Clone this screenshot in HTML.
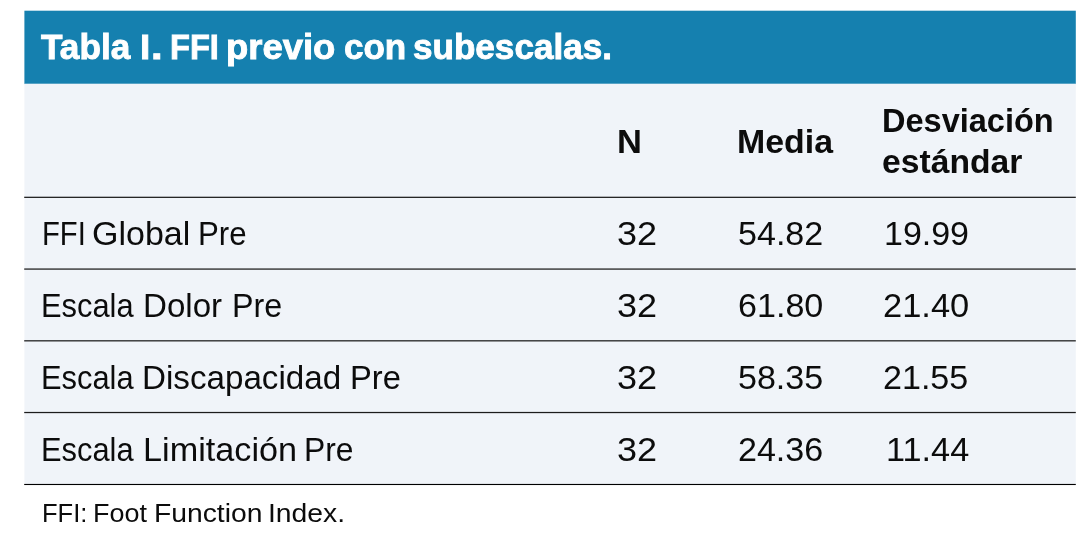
<!DOCTYPE html>
<html lang="es"><head><meta charset="utf-8"><title>Tabla I</title>
<style>
html,body{margin:0;padding:0;background:#fff}
body{width:1091px;height:539px;position:relative;overflow:hidden;font-family:"Liberation Sans",sans-serif}
#g{position:absolute;left:0;top:0;display:block}
table,caption,thead,tbody,tfoot,tr,th,td{display:block;margin:0;padding:0;border:0;font-weight:inherit;text-align:left}
.t{position:absolute;display:block;white-space:nowrap;transform-origin:0 0}
#t1a{left:41.00px;top:29.27px;font-size:35px;line-height:35px;font-weight:700;color:#ffffff;transform:scaleX(1.0049);-webkit-text-stroke:0.9px #fff}
#t1b{left:140.00px;top:29.27px;font-size:35px;line-height:35px;font-weight:700;color:#ffffff;transform:scaleX(1.0489);-webkit-text-stroke:0.9px #fff}
#t1b2{left:151.00px;top:29.27px;font-size:35px;line-height:35px;font-weight:700;color:#ffffff;transform:scaleX(1.1907);-webkit-text-stroke:0.9px #fff}
#t1c{left:170.00px;top:29.27px;font-size:35px;line-height:35px;font-weight:700;color:#ffffff;transform:scaleX(0.9317);-webkit-text-stroke:0.9px #fff}
#t1d{left:226.00px;top:29.27px;font-size:35px;line-height:35px;font-weight:700;color:#ffffff;transform:scaleX(1.041);-webkit-text-stroke:0.9px #fff}
#t1e{left:344.00px;top:29.27px;font-size:35px;line-height:35px;font-weight:700;color:#ffffff;transform:scaleX(1.0007);-webkit-text-stroke:0.9px #fff}
#t1f{left:413.00px;top:29.27px;font-size:35px;line-height:35px;font-weight:700;color:#ffffff;transform:scaleX(1.0022);-webkit-text-stroke:0.9px #fff}
#hN{left:617.00px;top:124.74px;font-size:33.5px;line-height:33.5px;font-weight:700;color:#0c0c0c;transform:scaleX(1.0301)}
#hM{left:737.00px;top:124.74px;font-size:33.5px;line-height:33.5px;font-weight:700;color:#0c0c0c;transform:scaleX(1.0108)}
#hD1{left:882.00px;top:104.04px;font-size:33.5px;line-height:33.5px;font-weight:700;color:#0c0c0c;transform:scaleX(0.9703)}
#hD2{left:882.00px;top:145.44px;font-size:33.5px;line-height:33.5px;font-weight:700;color:#0c0c0c;transform:scaleX(1.0053)}
#r1a{left:42.00px;top:217.44px;font-size:33.5px;line-height:33.5px;font-weight:400;color:#0c0c0c;transform:scaleX(0.8716)}
#r1a2{left:92.00px;top:217.44px;font-size:33.5px;line-height:33.5px;font-weight:400;color:#0c0c0c;transform:scaleX(1.0148)}
#r1a3{left:198.00px;top:217.44px;font-size:33.5px;line-height:33.5px;font-weight:400;color:#0c0c0c;transform:scaleX(0.9317)}
#r1b{left:617.00px;top:217.44px;font-size:33.5px;line-height:33.5px;font-weight:400;color:#0c0c0c;transform:scaleX(1.0754)}
#r1c{left:738.00px;top:217.44px;font-size:33.5px;line-height:33.5px;font-weight:400;color:#0c0c0c;transform:scaleX(1.0168)}
#r1d{left:884.00px;top:217.44px;font-size:33.5px;line-height:33.5px;font-weight:400;color:#0c0c0c;transform:scaleX(1.014)}
#r2a{left:41.00px;top:289.04px;font-size:33.5px;line-height:33.5px;font-weight:400;color:#0c0c0c;transform:scaleX(0.9205)}
#r2a2{left:143.00px;top:289.04px;font-size:33.5px;line-height:33.5px;font-weight:400;color:#0c0c0c;transform:scaleX(0.9885)}
#r2a3{left:232.00px;top:289.04px;font-size:33.5px;line-height:33.5px;font-weight:400;color:#0c0c0c;transform:scaleX(0.9631)}
#r2b{left:617.00px;top:289.04px;font-size:33.5px;line-height:33.5px;font-weight:400;color:#0c0c0c;transform:scaleX(1.0754)}
#r2c{left:738.00px;top:289.04px;font-size:33.5px;line-height:33.5px;font-weight:400;color:#0c0c0c;transform:scaleX(1.0178)}
#r2d{left:883.00px;top:289.04px;font-size:33.5px;line-height:33.5px;font-weight:400;color:#0c0c0c;transform:scaleX(1.0288)}
#r3a{left:41.00px;top:360.94px;font-size:33.5px;line-height:33.5px;font-weight:400;color:#0c0c0c;transform:scaleX(0.9205)}
#r3a2{left:142.00px;top:360.94px;font-size:33.5px;line-height:33.5px;font-weight:400;color:#0c0c0c;transform:scaleX(0.9904)}
#r3a3{left:350.00px;top:360.94px;font-size:33.5px;line-height:33.5px;font-weight:400;color:#0c0c0c;transform:scaleX(0.9757)}
#r3b{left:617.00px;top:360.94px;font-size:33.5px;line-height:33.5px;font-weight:400;color:#0c0c0c;transform:scaleX(1.0754)}
#r3c{left:738.00px;top:360.94px;font-size:33.5px;line-height:33.5px;font-weight:400;color:#0c0c0c;transform:scaleX(1.0162)}
#r3d{left:883.00px;top:360.94px;font-size:33.5px;line-height:33.5px;font-weight:400;color:#0c0c0c;transform:scaleX(1.0172)}
#r4a{left:41.00px;top:432.94px;font-size:33.5px;line-height:33.5px;font-weight:400;color:#0c0c0c;transform:scaleX(0.9205)}
#r4a2{left:143.00px;top:432.94px;font-size:33.5px;line-height:33.5px;font-weight:400;color:#0c0c0c;transform:scaleX(1.0219)}
#r4a3{left:304.00px;top:432.94px;font-size:33.5px;line-height:33.5px;font-weight:400;color:#0c0c0c;transform:scaleX(0.95)}
#r4b{left:617.00px;top:432.94px;font-size:33.5px;line-height:33.5px;font-weight:400;color:#0c0c0c;transform:scaleX(1.0754)}
#r4c{left:738.00px;top:432.94px;font-size:33.5px;line-height:33.5px;font-weight:400;color:#0c0c0c;transform:scaleX(1.0164)}
#r4d{left:886.00px;top:432.94px;font-size:33.5px;line-height:33.5px;font-weight:400;color:#0c0c0c;transform:scaleX(1.0229)}
#fna{left:42.00px;top:499.57px;font-size:26.5px;line-height:26.5px;font-weight:400;color:#0c0c0c;transform:scaleX(0.9627)}
#fnb{left:93.00px;top:499.57px;font-size:26.5px;line-height:26.5px;font-weight:400;color:#0c0c0c;transform:scaleX(1.0169)}
#fnc{left:154.00px;top:499.57px;font-size:26.5px;line-height:26.5px;font-weight:400;color:#0c0c0c;transform:scaleX(1.067)}
#fnd{left:268.00px;top:499.57px;font-size:26.5px;line-height:26.5px;font-weight:400;color:#0c0c0c;transform:scaleX(1.0672)}
</style></head><body>
<svg id="g" width="1091" height="539" viewBox="0 0 1091 539">
<rect x="24.4" y="10.7" width="1051.4" height="73.4" fill="#1580af"/>
<rect x="24.4" y="83.7" width="1051.4" height="400.6" fill="#f0f4f9"/>
<g fill="#1c1c1c">
<rect x="24.2" y="196.7" width="1051.6" height="1.25"/>
<rect x="24.2" y="268.45" width="1051.6" height="1.25"/>
<rect x="24.2" y="340.2" width="1051.6" height="1.25"/>
<rect x="24.2" y="411.9" width="1051.6" height="1.25"/>
<rect x="24.2" y="483.92" width="1051.6" height="1.12" fill="#000"/>
</g>
</svg>
<table>
<caption><span class="t" id="t1a">Tabla</span> <span class="t" id="t1b">I</span><span class="t" id="t1b2">.</span> <span class="t" id="t1c">FFI</span> <span class="t" id="t1d">previo</span> <span class="t" id="t1e">con</span> <span class="t" id="t1f">subescalas.</span></caption>
<thead>
<tr><th></th><th><span class="t" id="hN">N</span></th><th><span class="t" id="hM">Media</span></th><th><span class="t" id="hD1">Desviación</span> <span class="t" id="hD2">estándar</span></th></tr>
</thead>
<tbody>
<tr><td><span class="t" id="r1a">FFI</span> <span class="t" id="r1a2">Global</span> <span class="t" id="r1a3">Pre</span></td><td><span class="t" id="r1b">32</span></td><td><span class="t" id="r1c">54.82</span></td><td><span class="t" id="r1d">19.99</span></td></tr>
<tr><td><span class="t" id="r2a">Escala</span> <span class="t" id="r2a2">Dolor</span> <span class="t" id="r2a3">Pre</span></td><td><span class="t" id="r2b">32</span></td><td><span class="t" id="r2c">61.80</span></td><td><span class="t" id="r2d">21.40</span></td></tr>
<tr><td><span class="t" id="r3a">Escala</span> <span class="t" id="r3a2">Discapacidad</span> <span class="t" id="r3a3">Pre</span></td><td><span class="t" id="r3b">32</span></td><td><span class="t" id="r3c">58.35</span></td><td><span class="t" id="r3d">21.55</span></td></tr>
<tr><td><span class="t" id="r4a">Escala</span> <span class="t" id="r4a2">Limitación</span> <span class="t" id="r4a3">Pre</span></td><td><span class="t" id="r4b">32</span></td><td><span class="t" id="r4c">24.36</span></td><td><span class="t" id="r4d">11.44</span></td></tr>
</tbody>
<tfoot>
<tr><td colspan="4"><span class="t" id="fna">FFI:</span> <span class="t" id="fnb">Foot</span> <span class="t" id="fnc">Function</span> <span class="t" id="fnd">Index.</span></td></tr>
</tfoot>
</table>
</body></html>
